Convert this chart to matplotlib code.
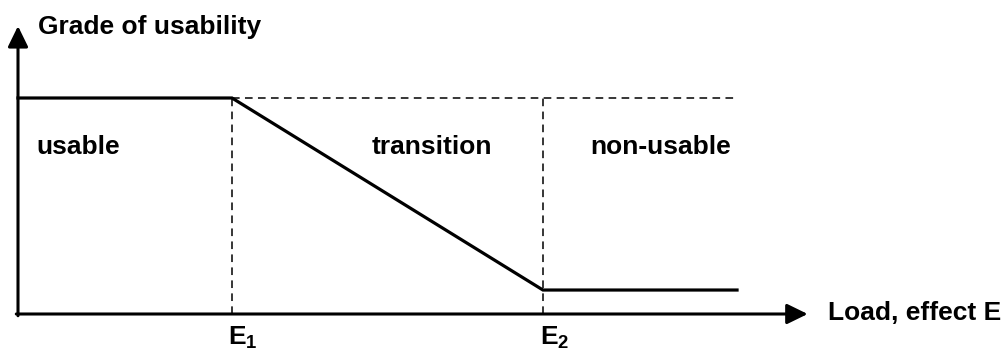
import matplotlib
matplotlib.use("Agg")
import matplotlib.pyplot as plt

plt.rcParams['font.family'] = ['Liberation Sans', 'DejaVu Sans']
plt.rcParams['font.weight'] = 'bold'
plt.rcParams['mathtext.fontset'] = 'custom'
plt.rcParams['mathtext.rm'] = 'Liberation Sans:bold'
plt.rcParams['mathtext.it'] = 'Liberation Sans:bold'
plt.rcParams['mathtext.bf'] = 'Liberation Sans:bold'

# curva: grado de usabilidad frente a la carga (unidades arbitrarias, E1 = 1)
E1 = 1.0
E2 = 2.453
x_end = 3.36
load = [0.0, E1, E2, x_end]
grade = [1.0, 1.0, 0.111, 0.111]

zone_names = ['usable', 'transition', 'non-usable']
zone_x = [0.084, 1.654, 2.673]
zone_y = 0.773

x_tip = 3.69
y_tip = 1.333

fig = plt.figure(figsize=(10.04, 3.52), dpi=100)
ax = fig.add_axes([0, 0, 1, 1])
ax.set_xlim(-18 / 214, (1004 - 18) / 214)
ax.set_ylim(-38 / 216, (352 - 38) / 216)
ax.axis('off')

# ejes con flecha
arr = dict(arrowstyle='-|>,head_length=0.45,head_width=0.22', lw=2.2,
           color='black', mutation_scale=28, shrinkA=0, shrinkB=0)
ax.annotate('', xy=(x_tip, 0), xytext=(-0.008, 0), arrowprops=arr)
ax.annotate('', xy=(0, y_tip), xytext=(0, -0.008), arrowprops=arr)

# líneas auxiliares discontinuas
dash = dict(color='black', lw=1.1, ls=(0, (5, 3.5)))
ax.plot([E1, x_end], [1, 1], **dash)
ax.plot([E1, E1], [0, 1], **dash)
ax.plot([E2, E2], [0, 1], **dash)

ax.plot(load, grade, color='black', lw=2.3, solid_joinstyle='miter')

fs = 19
for name, xx in zip(zone_names, zone_x):
    ax.text(xx, zone_y, name, fontsize=fs, ha='left', va='center')

ax.text(0.093, 1.329, 'Grade of usability', fontsize=fs, ha='left', va='center')
ax.text(3.785, 0.005, 'Load, effect E', fontsize=fs, ha='left', va='center')
ax.text(0.981, -0.111, 'E$_1$', fontsize=fs, ha='left', va='center')
ax.text(2.439, -0.111, 'E$_2$', fontsize=fs, ha='left', va='center')

fig.savefig('out.png', dpi=100)
